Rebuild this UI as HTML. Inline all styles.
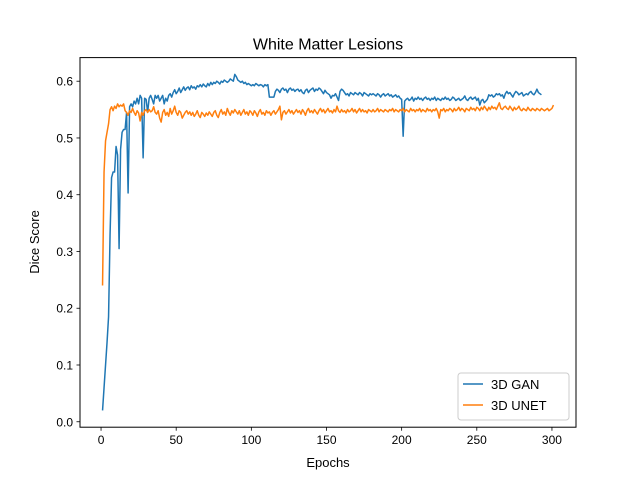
<!DOCTYPE html>
<html><head><meta charset="utf-8"><style>
body{margin:0;background:#fff}
svg text{font-family:"Liberation Sans","DejaVu Sans",sans-serif;}
</style></head><body>
<svg id="chart" width="640" height="480" viewBox="0 0 640 480">
<rect width="640" height="480" fill="#fff"/>
<text x="328" y="49.5" text-anchor="middle" font-size="16">White Matter Lesions</text>
<g id="plot"></g>
<rect x="80" y="57.6" width="496" height="369.6" fill="none" stroke="#000" stroke-width="1"/>
<text x="328" y="467" text-anchor="middle" font-size="13">Epochs</text>
<text transform="translate(39,242) rotate(-90)" text-anchor="middle" font-size="13">Dice Score</text>
<g>
<rect x="458" y="373" width="111" height="47" rx="3" fill="#fff" stroke="#ccc" stroke-width="1"/>
<line x1="463" y1="384" x2="483" y2="384" stroke="#1f77b4" stroke-width="1.5"/>
<text x="491" y="389" font-size="13">3D GAN</text>
<line x1="463" y1="405" x2="483" y2="405" stroke="#ff7f0e" stroke-width="1.5"/>
<text x="491" y="410" font-size="13">3D UNET</text>
</g>
</svg>
<script>
const xTicks=[0,50,100,150,200,250,300];
const yTicks=[0.0,0.1,0.2,0.3,0.4,0.5,0.6];
const yTickLabels=["0.0","0.1","0.2","0.3","0.4","0.5","0.6"];
const ganScores=[.020,.060,.100,.140,.185,.330,.430,.440,.440,.485,
.470,.305,.480,.510,.515,.515,.545,.403,.555,.560,
.555,.565,.560,.570,.560,.575,.570,.465,.570,.568,
.545,.570,.575,.568,.560,.575,.570,.575,.565,.570,
.575,.560,.570,.565,.575,.578,.572,.580,.585,.578,
.582,.588,.580,.585,.590,.584,.588,.590,.585,.592,
.588,.590,.586,.592,.590,.594,.590,.595,.592,.590,
.596,.592,.598,.594,.598,.596,.600,.598,.595,.600,
.598,.602,.600,.598,.600,.604,.602,.600,.612,.608,
.602,.600,.598,.600,.596,.598,.594,.596,.594,.592,
.594,.592,.596,.594,.592,.594,.593,.590,.594,.592,
.594,.572,.572,.572,.572,.582,.586,.584,.580,.586,
.588,.584,.586,.580,.586,.588,.584,.586,.582,.585,
.586,.582,.585,.580,.578,.584,.586,.580,.584,.586,
.588,.582,.586,.584,.588,.586,.582,.578,.584,.580,
.578,.576,.570,.575,.574,.578,.572,.566,.582,.586,
.584,.580,.576,.578,.574,.580,.578,.576,.580,.578,
.576,.580,.578,.574,.580,.578,.576,.574,.578,.576,
.578,.576,.574,.578,.576,.572,.576,.578,.574,.576,
.578,.574,.576,.572,.574,.576,.572,.574,.570,.568,
.503,.565,.568,.570,.566,.568,.572,.565,.570,.568,
.572,.568,.570,.566,.570,.572,.568,.570,.566,.570,
.568,.572,.566,.570,.568,.566,.570,.568,.572,.568,
.570,.566,.568,.572,.570,.566,.568,.570,.566,.568,
.570,.574,.568,.566,.570,.572,.568,.570,.572,.566,
.570,.558,.566,.568,.562,.565,.568,.576,.574,.576,
.572,.574,.578,.576,.578,.574,.576,.570,.578,.582,
.578,.580,.576,.572,.578,.582,.580,.576,.578,.580,
.574,.576,.578,.576,.580,.582,.578,.576,.580,.586,
.580,.578,.576];
const unetScores=[.240,.440,.495,.510,.525,.550,.555,.548,.556,.552,
.560,.555,.558,.556,.560,.548,.545,.540,.548,.545,
.552,.545,.540,.548,.544,.530,.545,.540,.548,.550,
.545,.550,.546,.548,.555,.545,.542,.548,.535,.528,
.545,.550,.540,.545,.538,.552,.542,.548,.556,.545,
.540,.548,.545,.535,.540,.545,.548,.542,.546,.540,
.545,.538,.542,.548,.540,.536,.545,.542,.538,.544,
.540,.546,.542,.538,.545,.548,.540,.536,.545,.550,
.542,.546,.540,.552,.545,.540,.548,.544,.550,.546,
.542,.548,.540,.545,.550,.542,.546,.540,.548,.545,
.540,.548,.544,.538,.546,.550,.542,.545,.540,.548,
.544,.546,.540,.545,.548,.542,.546,.550,.556,.532,
.545,.548,.542,.546,.550,.544,.548,.542,.546,.550,
.545,.548,.542,.550,.546,.540,.548,.552,.545,.548,
.544,.550,.546,.542,.548,.552,.546,.550,.544,.548,
.552,.546,.548,.544,.550,.546,.556,.548,.545,.550,
.546,.548,.544,.550,.546,.548,.552,.546,.550,.544,
.548,.552,.546,.550,.546,.548,.544,.550,.548,.546,
.550,.546,.548,.552,.546,.550,.548,.546,.550,.548,
.546,.550,.548,.552,.546,.550,.548,.546,.550,.548,
.552,.546,.550,.548,.546,.552,.548,.550,.546,.550,
.548,.552,.546,.550,.548,.546,.552,.548,.550,.546,
.550,.548,.552,.546,.535,.550,.548,.552,.546,.550,
.548,.552,.550,.546,.552,.548,.550,.554,.548,.552,
.550,.546,.552,.550,.548,.554,.550,.552,.548,.554,
.552,.548,.554,.550,.556,.552,.548,.554,.550,.556,
.552,.554,.550,.556,.562,.552,.550,.554,.556,.552,
.550,.556,.552,.548,.554,.550,.552,.556,.550,.548,
.552,.550,.548,.554,.550,.548,.552,.550,.548,.552,
.550,.548,.552,.550,.548,.550,.552,.548,.550,.552,
.558];
const X0=80,X1=576,Y0=57.6,Y1=427.2;
const xMin=-14,xMax=316,yMin=-0.0096,yMax=0.6416;
function xs(v){return X0+(v-xMin)/(xMax-xMin)*(X1-X0);}
function ys(v){return Y1-(v-yMin)/(yMax-yMin)*(Y1-Y0);}
const NS="http://www.w3.org/2000/svg";
const g=document.getElementById('plot');
function mk(tag,attrs){const e=document.createElementNS(NS,tag);for(const k in attrs)e.setAttribute(k,attrs[k]);return e;}
xTicks.forEach(t=>{
  const l=mk('line',{x1:xs(t),x2:xs(t),y1:Y1,y2:Y1+3.5,stroke:'#000','stroke-width':0.8});
  
  
  g.appendChild(l);
  const tx=mk('text',{x:xs(t),y:Y1+17,'text-anchor':'middle','font-size':12});
  tx.textContent=t;
  
  
  g.appendChild(tx);
});
yTicks.forEach((t,i)=>{
  const l=mk('line',{x1:X0-3.5,x2:X0,y1:ys(t),y2:ys(t),stroke:'#000','stroke-width':0.8});
  
  
  g.appendChild(l);
  const tx=mk('text',{x:X0-7,y:ys(t)+4.5,'text-anchor':'end','font-size':12});
  tx.textContent=yTickLabels[i];
  
  
  g.appendChild(tx);
});
function series(arr){
  return arr.map((v,i)=>(i?'L':'M')+xs(i+1).toFixed(2)+','+ys(v).toFixed(2)).join('');
}
const p1=mk('path',{d:series(ganScores),fill:'none',stroke:'#1f77b4','stroke-width':1.5,'stroke-linejoin':'round'});


g.appendChild(p1);
const p2=mk('path',{d:series(unetScores),fill:'none',stroke:'#ff7f0e','stroke-width':1.5,'stroke-linejoin':'round'});


g.appendChild(p2);
</script>
</body></html>
